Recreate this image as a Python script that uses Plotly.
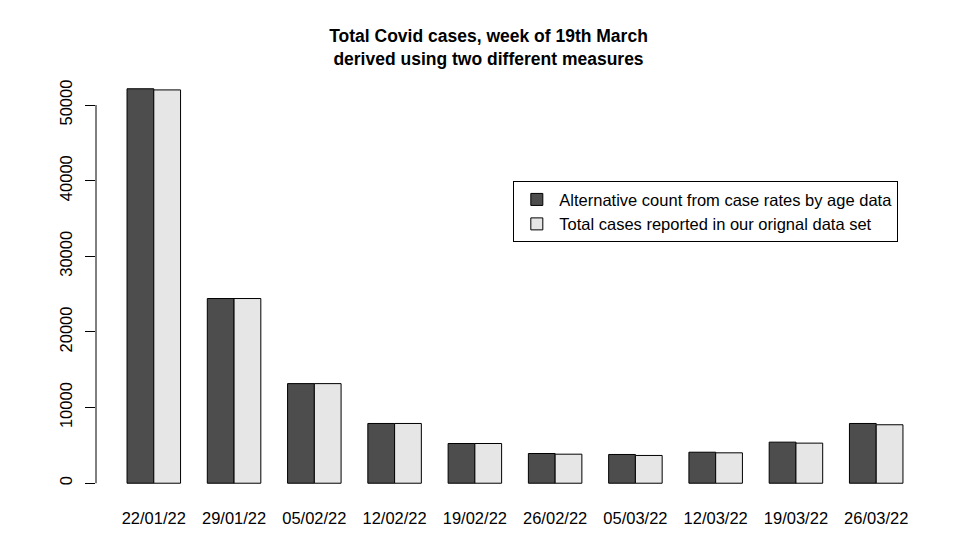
import plotly.graph_objects as go

weeks = ["22/01/22", "29/01/22", "05/02/22", "12/02/22", "19/02/22",
         "26/02/22", "05/03/22", "12/03/22", "19/03/22", "26/03/22"]
alt_counts = [52150, 24420, 13170, 7900, 5250, 3930, 3800, 4100, 5430, 7900]
reported_totals = [52000, 24420, 13170, 7900, 5250, 3840, 3670, 4020, 5300, 7730]
series_names = ["Alternative count from case rates by age data",
                "Total cases reported in our orignal data set"]
y_ticks = [0, 10000, 20000, 30000, 40000, 50000]

FONT = "Liberation Sans, Arial, Helvetica, sans-serif"
# the page body adds an 8px offset; compensate in the layout
OFF = 8

fig = go.Figure()
fig.add_trace(go.Bar(x=weeks, y=alt_counts, name=series_names[0],
                     marker=dict(color="#4D4D4D", line=dict(color="black", width=1))))
fig.add_trace(go.Bar(x=weeks, y=reported_totals, name=series_names[1],
                     marker=dict(color="#E6E6E6", line=dict(color="black", width=1))))

ymax = max(max(alt_counts), max(reported_totals))
pad = ymax * 0.04

fig.update_layout(
    width=977, height=539,
    margin=dict(l=96 - OFF, r=43 + OFF, t=73 - OFF, b=40 + OFF, pad=0),
    paper_bgcolor="white", plot_bgcolor="white",
    barmode="group", bargap=1/3, bargroupgap=0,
    font=dict(family=FONT, size=16.5, color="black"),
    title=dict(text="<b>Total Covid cases, week of 19th March<br>derived using two different measures</b>",
               x=(488.5 - OFF) / 977, xref="container", xanchor="center",
               y=0.938 + OFF / 539 - 8.5 / 539, yref="container", yanchor="top",
               font=dict(family=FONT, size=17.5, color="black")),
    showlegend=True,
    legend=dict(x=0.498, y=0.746, xanchor="left", yanchor="top",
                bordercolor="black", borderwidth=1, bgcolor="white",
                itemwidth=35,
                font=dict(family=FONT, size=16.5, color="black"),
                traceorder="normal"),
    xaxis=dict(type="category", range=[-0.72, 9.72], showline=False, showgrid=False,
               zeroline=False, ticks="", ticklabelstandoff=7,
               tickfont=dict(family=FONT, size=16.5, color="black")),
    yaxis=dict(range=[-pad, ymax + pad], showline=False, showgrid=False, zeroline=False,
               tickmode="array", tickvals=y_ticks, ticktext=[str(v) for v in y_ticks],
               ticks="outside", ticklen=10, tickwidth=1, tickcolor="black",
               tickangle=-90, ticklabelstandoff=6,
               tickfont=dict(family=FONT, size=16.5, color="black")),
)

fig.add_shape(type="line", xref="paper", yref="y", x0=0, x1=0,
              y0=y_ticks[0], y1=y_ticks[-1], line=dict(color="black", width=1))

fig.write_html("out.html")
